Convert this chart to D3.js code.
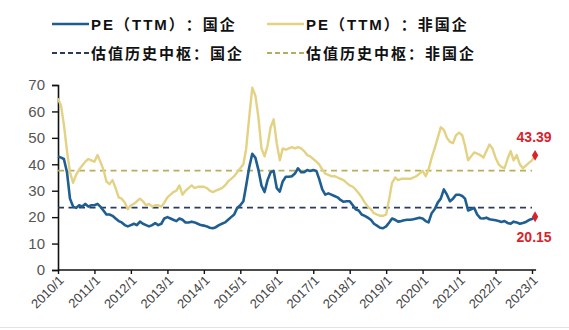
<!DOCTYPE html>
<html>
<head>
<meta charset="utf-8">
<script src="https://cdn.jsdelivr.net/npm/d3@7/dist/d3.min.js"></script>
<style>
  html, body { margin: 0; padding: 0; background: #fff; }
  svg { display: block; }
  .legend text { text-spacing-trim: space-all; }
</style>
</head>
<body>
<svg id="chart" width="569" height="330"></svg>
<script>
// Monthly PE (TTM), 2010/1 – 2023/2
const startYear = 2010;
const peSOE = [
  43, 42.5, 42, 37, 27, 24, 23.5, 24.5, 24, 25, 24, 24.5,
  24.5, 25, 24, 22.5, 21, 21, 20.5, 19.5, 18.5, 18, 17, 16.5,
  17, 17.5, 17, 18.3, 17.5, 17, 16.5, 17, 17.7, 17, 17.5, 19.5,
  20, 19.5, 19, 18.5, 19.5, 19, 18, 18, 18.3, 18, 17.5, 17,
  16.8, 16.5, 16, 15.8, 16.2, 17, 17.5, 18, 19, 20, 21, 23.5,
  24.5, 26, 32, 39, 44, 42.5, 38, 32, 29.5, 34, 37, 37.5,
  31, 29.7, 33.5, 35.3, 35.3, 35.5, 36.5, 38.5, 37, 37, 37.8, 37.5,
  37.8, 37.5, 34.5, 30.5, 28.5, 29, 28.5, 28, 27.5, 26.5, 25.8, 26,
  26, 24.5, 23, 22.5, 21, 20.5, 19.8, 19, 17.5, 16.8, 16, 15.8,
  16.5, 18, 19.5, 19, 18.3, 18.5, 18.8, 19, 19, 19.2, 19.5, 19.8,
  19.5, 18.5, 18, 21.5, 23, 25.5, 27, 30.5, 28.5, 26, 27, 28.5,
  28.5, 28, 27, 22.5, 23, 23.5, 21, 19.6, 19.5, 19.8, 19.2, 19,
  18.8, 18.5, 18.2, 18.5, 17.8, 17.5, 18.3, 18, 17.5, 17.8, 18.2, 18.9,
  19.3, 20.15
];
const peNonSOE = [
  65, 62, 55, 45, 37, 33, 36, 38, 39.5, 41, 42, 41.5,
  41, 43.5, 41, 38, 33.5, 32.5, 34, 31, 27.5, 27, 25.5, 23,
  24.5, 25, 26, 27, 26, 24.5, 25, 24, 24.5, 24.5, 24, 25.5,
  27.5, 28.5, 29.5, 30, 32, 28.5, 30, 31, 32, 31, 31.5, 31.5,
  31.5, 31, 30, 29.5, 30, 30.5, 31, 32, 33.5, 34.5, 35.5, 37,
  38.5, 40, 46, 58, 69, 66, 58, 46, 43, 47, 54, 57,
  48, 41.5, 46, 45.5, 46, 46.5, 46, 46.5, 46, 45, 43.5, 43,
  42, 41, 40, 38, 36.5, 36, 35.5, 35.5, 35, 34.5, 34, 33,
  32, 31.5, 30.5, 29, 27.5, 25.5, 24, 23, 21.5, 21, 20.5, 20.5,
  21, 27, 33, 35, 34, 34.5, 34.5, 34.5, 34.5, 35, 35.5, 36.5,
  37.5, 35.5, 38, 42.5, 46, 50, 54, 53, 50, 48.5, 48, 51,
  52, 51, 47, 41.5, 43, 44.5, 44, 43.5, 42.5, 45, 47.5, 46,
  42.5, 40, 39, 38.5, 42, 45, 41.5, 43.5, 40, 38.5, 39.5, 40.5,
  41.5, 43.39
];
// Historical medians
const medianSOE = 23.6;
const medianNonSOE = 37.6;

const yTicks = [0, 10, 20, 30, 40, 50, 60, 70];
const xTickYears = d3.range(2010, 2024);
const xTickLabels = xTickYears.map(y => y + "/1");

const legendLabels = ["PE（TTM）：国企", "PE（TTM）：非国企", "估值历史中枢：国企", "估值历史中枢：非国企"];

const colSOE = "#1f5e90";
const colNon = "#e3d283";
const colMedSOE = "#2c3a5c";
const colMedNon = "#b7ad5a";
const colRed = "#d8232c";

const svg = d3.select("#chart");
const font = "Arial, 'Liberation Sans', 'Noto Sans CJK SC', sans-serif";

const dates = peSOE.map((_, i) => new Date(startYear, i, 1));

const x = d3.scaleTime()
  .domain([new Date(2010, 0, 1), new Date(2023, 0, 1)])
  .range([58, 532]);
const y = d3.scaleLinear().domain([0, 70]).range([270, 85]);

// Y axis
const yAxis = svg.append("g")
  .attr("transform", "translate(58,0)")
  .call(d3.axisLeft(y).tickValues(yTicks).tickSize(6).tickPadding(7).tickFormat(d3.format("d")));
yAxis.select(".domain").attr("stroke", "#111").attr("stroke-width", 1.6);
yAxis.selectAll(".tick line").attr("stroke", "#111").attr("stroke-width", 1.4);
yAxis.selectAll(".tick text")
  .attr("font-family", font).attr("font-size", 15).attr("fill", "#555");

// X axis
const xAxis = svg.append("g")
  .attr("transform", "translate(0,270)")
  .call(d3.axisBottom(x)
    .tickValues(xTickYears.map(yr => new Date(yr, 0, 1)))
    .tickSize(4).tickSizeOuter(0)
    .tickFormat((d, i) => xTickLabels[i]));
xAxis.select(".domain").attr("stroke", "#111").attr("stroke-width", 1.6)
  .attr("d", "M58,0H" + (x(dates[dates.length - 1]) + 1));
xAxis.selectAll(".tick line").attr("stroke", "#111").attr("stroke-width", 1.4);
xAxis.selectAll(".tick text")
  .attr("font-family", font).attr("font-size", 13).attr("fill", "#444")
  .attr("text-anchor", "end")
  .attr("transform", "translate(3,8) rotate(-45)")
  .attr("dy", "0.35em").attr("y", 0).attr("x", 0);

// Median dashed lines
const medLine = (v, col) => svg.append("line")
  .attr("x1", x(new Date(2010, 0, 1))).attr("x2", x(new Date(2023, 0, 1)))
  .attr("y1", y(v)).attr("y2", y(v))
  .attr("stroke", col).attr("stroke-width", 1.8)
  .attr("stroke-dasharray", "6,4.5");
medLine(medianNonSOE, colMedNon);
medLine(medianSOE, colMedSOE);

// PE lines
const line = d3.line().x((d, i) => x(dates[i])).y(d => y(d)).curve(d3.curveLinear);
svg.append("path").datum(peNonSOE)
  .attr("fill", "none").attr("stroke", colNon).attr("stroke-width", 2.4)
  .attr("stroke-linejoin", "round").attr("d", line);
svg.append("path").datum(peSOE)
  .attr("fill", "none").attr("stroke", colSOE).attr("stroke-width", 2.6)
  .attr("stroke-linejoin", "round").attr("d", line);

// Latest values
const last = dates.length - 1;
const ends = [
  { v: peNonSOE[last], dy: -17 },
  { v: peSOE[last], dy: 22 }
];
ends.forEach(e => {
  svg.append("path")
    .attr("d", d3.symbol(d3.symbolDiamond, 34)())
    .attr("transform", `translate(${x(dates[last])},${y(e.v)})`)
    .attr("fill", colRed);
  svg.append("text")
    .attr("x", x(dates[last]) - 1).attr("y", y(e.v) + e.dy)
    .attr("text-anchor", "middle").attr("dominant-baseline", "middle")
    .attr("font-family", font).attr("font-size", 14).attr("font-weight", "bold")
    .attr("fill", colRed)
    .text(d3.format(".2f")(e.v));
});

// Legend
const lg = svg.append("g").attr("class", "legend");
const legendItems = [
  { x: 52, y: 24, col: colSOE, dash: null, label: legendLabels[0] },
  { x: 267, y: 24, col: colNon, dash: null, label: legendLabels[1] },
  { x: 52, y: 53, col: colMedSOE, dash: "5,3", label: legendLabels[2] },
  { x: 267, y: 53, col: colMedNon, dash: "5,3", label: legendLabels[3] }
];
legendItems.forEach(it => {
  lg.append("line")
    .attr("x1", it.x).attr("x2", it.x + 37)
    .attr("y1", it.y).attr("y2", it.y)
    .attr("stroke", it.col).attr("stroke-width", it.dash ? 1.8 : 2.4)
    .attr("stroke-dasharray", it.dash);
  lg.append("text")
    .attr("x", it.x + 39).attr("y", it.y)
    .attr("dominant-baseline", "central")
    .attr("font-family", "Arial, 'Noto Sans CJK SC', sans-serif")
    .attr("font-size", 15).attr("font-weight", "bold")
    .attr("letter-spacing", 2)
    .attr("fill", "#111")
    .text(it.label);
});

// Bottom rule
svg.append("line")
  .attr("x1", 0).attr("x2", 569).attr("y1", 327.5).attr("y2", 327.5)
  .attr("stroke", "#e4e4e4").attr("stroke-width", 1);
</script>
</body>
</html>
